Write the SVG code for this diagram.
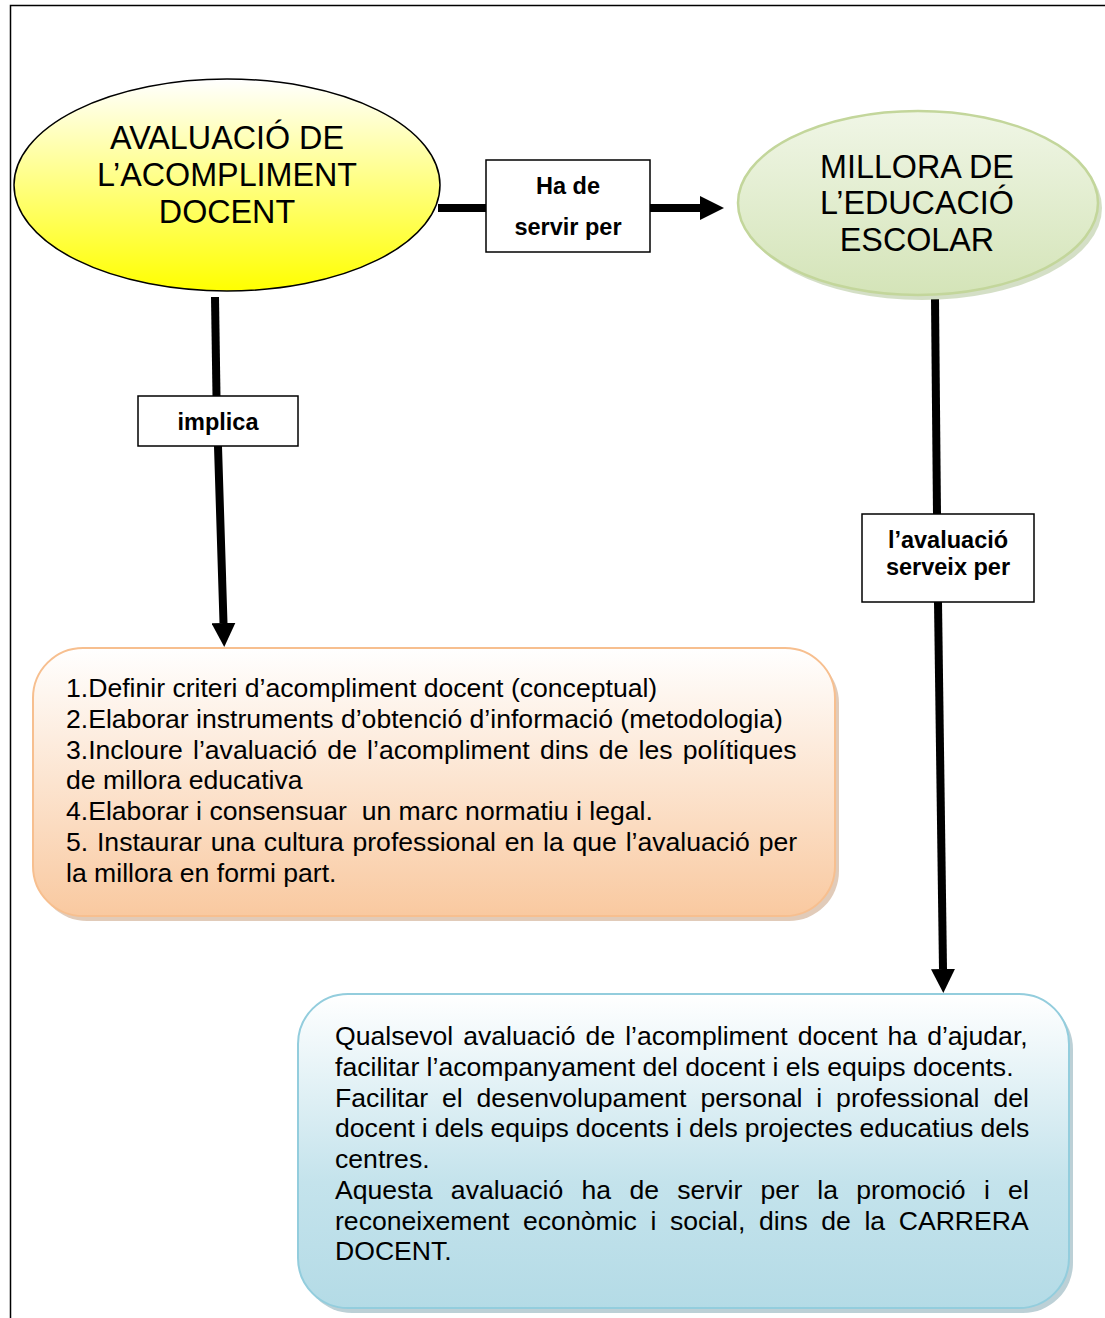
<svg xmlns="http://www.w3.org/2000/svg" width="1105" height="1318" viewBox="0 0 1105 1318">
<style>
.t{font-family:"Liberation Sans",Arial,sans-serif;fill:#000}
.big{font-size:32.3px;text-anchor:middle}
.lbl{font-size:23.5px;font-weight:bold;text-anchor:middle}
.body{font-size:26.6px}
.box{fill:#fff;stroke:#000;stroke-width:1.5}
.conn{stroke:#000;stroke-width:8;fill:none}
</style>
<defs>
<linearGradient id="gy" x1="0" y1="0" x2="0" y2="1">
<stop offset="0" stop-color="#ffffff"/><stop offset="1" stop-color="#ffff00"/>
</linearGradient>
<linearGradient id="gg" x1="0" y1="0" x2="0" y2="1">
<stop offset="0" stop-color="#f0f6e6"/><stop offset="1" stop-color="#d4e4b8"/>
</linearGradient>
<linearGradient id="go" x1="0" y1="0" x2="0" y2="1">
<stop offset="0" stop-color="#ffffff"/><stop offset="1" stop-color="#f9c9a0"/>
</linearGradient>
<linearGradient id="gb" x1="0" y1="0" x2="0" y2="1">
<stop offset="0" stop-color="#ffffff"/><stop offset="0.6" stop-color="#c4e3ec"/><stop offset="1" stop-color="#b4dbe6"/>
</linearGradient>
<marker id="ah" viewBox="0 0 10 10" refX="0" refY="5" markerWidth="3" markerHeight="3" orient="auto" markerUnits="strokeWidth">
<path d="M0,0 L10,5 L0,10 Z" fill="#000"/>
</marker>
</defs>
<rect width="1105" height="1318" fill="#fff"/>
<path d="M10.5,1318 V5.5 H1105" fill="none" stroke="#000" stroke-width="1.5"/>

<g id="connectors">
<line class="conn" x1="438" y1="208" x2="487" y2="208"/>
<line class="conn" x1="650" y1="208" x2="700" y2="208" marker-end="url(#ah)"/>
<line class="conn" x1="215" y1="297" x2="216.5" y2="397"/>
<line class="conn" x1="218" y1="446" x2="223.5" y2="623" marker-end="url(#ah)"/>
<line class="conn" x1="935" y1="299" x2="937" y2="515"/>
<line class="conn" x1="938" y1="602" x2="943" y2="969" marker-end="url(#ah)"/>
</g>

<g id="node-avaluacio">
<ellipse cx="227" cy="185" rx="213" ry="106" fill="url(#gy)" stroke="#000" stroke-width="1.5"/>
<text class="t big" x="227" y="149">AVALUACIÓ DE</text>
<text class="t big" x="227" y="186">L’ACOMPLIMENT</text>
<text class="t big" x="227" y="223">DOCENT</text>
</g>

<g id="node-millora">
<ellipse cx="922" cy="208" rx="180" ry="92" fill="#b8c9a0" opacity="0.6"/>
<ellipse cx="918" cy="203" rx="180" ry="92" fill="url(#gg)" stroke="#c3d69b" stroke-width="2.5"/>
<text class="t big" x="917" y="178">MILLORA DE</text>
<text class="t big" x="917" y="214">L’EDUCACIÓ</text>
<text class="t big" x="917" y="251">ESCOLAR</text>
</g>

<g id="label-hade">
<rect class="box" x="486" y="160" width="164" height="92"/>
<text class="t lbl" x="568" y="194">Ha de</text>
<text class="t lbl" x="568" y="235">servir per</text>
</g>

<g id="label-implica">
<rect class="box" x="138" y="396" width="160" height="50"/>
<text class="t lbl" x="218" y="430">implica</text>
</g>

<g id="label-serveix">
<rect class="box" x="862" y="514" width="172" height="88"/>
<text class="t lbl" x="948" y="548">l’avaluació</text>
<text class="t lbl" x="948" y="575">serveix per</text>
</g>

<g id="node-passos">
<rect x="37" y="653" width="802" height="268" rx="50" fill="#c9a080" opacity="0.55"/>
<rect x="33" y="648" width="802" height="268" rx="50" fill="url(#go)" stroke="#f7bf8f" stroke-width="2"/>
<text class="t body" x="66" y="697">1.Definir criteri d’acompliment docent (conceptual)</text>
<text class="t body" x="66" y="728">2.Elaborar instruments d’obtenció d’informació (metodologia)</text>
<text class="t body" x="66" y="759" word-spacing="2.8">3.Incloure l’avaluació de l’acompliment dins de les polítiques</text>
<text class="t body" x="66" y="789">de millora educativa</text>
<text class="t body" x="66" y="820" xml:space="preserve">4.Elaborar i consensuar  un marc normatiu i legal.</text>
<text class="t body" x="66" y="851" word-spacing="1.4">5. Instaurar una cultura professional en la que l’avaluació per</text>
<text class="t body" x="66" y="882">la millora en formi part.</text>
</g>

<g id="node-carrera">
<rect x="302" y="999" width="771" height="314" rx="50" fill="#8fb0bb" opacity="0.6"/>
<rect x="298" y="994" width="771" height="314" rx="50" fill="url(#gb)" stroke="#93cddd" stroke-width="2"/>
<text class="t body" x="335" y="1045" word-spacing="2.6">Qualsevol avaluació de l’acompliment docent ha d’ajudar,</text>
<text class="t body" x="335" y="1076">facilitar l’acompanyament del docent i els equips docents.</text>
<text class="t body" x="335" y="1107" word-spacing="6.5">Facilitar el desenvolupament personal i professional del</text>
<text class="t body" x="335" y="1137" word-spacing="-0.4">docent i dels equips docents i dels projectes educatius dels</text>
<text class="t body" x="335" y="1168">centres.</text>
<text class="t body" x="335" y="1199" word-spacing="10.9">Aquesta avaluació ha de servir per la promoció i el</text>
<text class="t body" x="335" y="1230" word-spacing="6.2">reconeixement econòmic i social, dins de la CARRERA</text>
<text class="t body" x="335" y="1260">DOCENT.</text>
</g>
</svg>
